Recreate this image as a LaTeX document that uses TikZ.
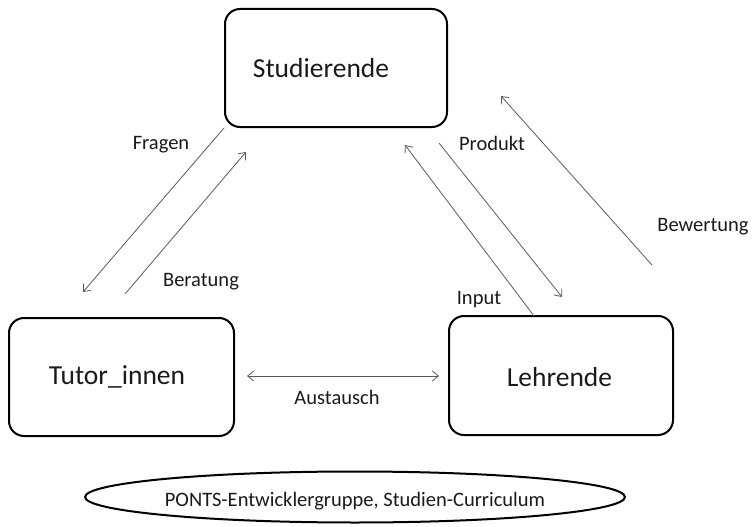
\documentclass[tikz,border=0pt]{standalone}
\usepackage{fontspec}
\setmainfont{Carlito}
\usetikzlibrary{arrows.meta,shapes.geometric}
\definecolor{txt}{HTML}{1A1A1A}
\definecolor{arrc}{HTML}{5A5A5A}
\tikzset{
  box/.style={draw=black, line width=2pt, rounded corners=15pt, inner sep=0pt},
  boxtext/.style={text=txt, font=\fontsize{27.5}{30}\selectfont, inner sep=0pt},
  lbl/.style={text=txt, font=\fontsize{20.5}{23}\selectfont, inner sep=0pt},
  arr/.style={draw=arrc, line width=0.8pt, -{Straight Barb[length=6pt,width=10pt,line width=0.8pt]}},
  dblarr/.style={draw=arrc, line width=0.8pt, {Straight Barb[length=6pt,width=10pt,line width=0.8pt]}-{Straight Barb[length=6pt,width=10pt,line width=0.8pt]}},
}
\begin{document}
\begin{tikzpicture}[x=1pt,y=-1pt]
\useasboundingbox (0,0) rectangle (753,527);
% boxes
\node[box, minimum width=222pt, minimum height=118pt] (stud) at (336,68) {};
\node[boxtext] (studt) at (321,68) {Studierende};
\node[box, minimum width=225pt, minimum height=118pt] (tut) at (121.5,377) {};
\node[boxtext] (tutt) at (117,377) {Tutor\_innen};
\node[box, minimum width=224pt, minimum height=119pt] (lehr) at (561,375.5) {};
\node[boxtext] (lehrt) at (559.5,377) {Lehrende};
% ellipse
\node[draw=black, line width=2pt, ellipse, minimum width=540pt, minimum height=51pt, inner sep=0pt] (ell) at (355,497) {};
\node[lbl] (ellt) at (355,501) {PONTS-Entwicklergruppe, Studien-Curriculum};
% free ends
\coordinate (fragenEnd) at (83,292);
\coordinate (berStart) at (125,294);
\coordinate (berEnd) at (246,152);
\coordinate (inStart) at (534,316);
\coordinate (inEnd) at (405,145);
\coordinate (prodStart) at (439,143);
\coordinate (prodEnd) at (562,297);
\coordinate (bewStart) at (652,265);
\coordinate (bewEnd) at (501,96);
\coordinate (ausL) at (247,376);
\coordinate (ausR) at (439,376);
% connectors
\draw[arr] (stud.south west) -- (fragenEnd);
\draw[arr] (berStart) -- (berEnd);
\draw[arr] (inStart) -- (inEnd);
\draw[arr] (prodStart) -- (prodEnd);
\draw[arr] (bewStart) -- (bewEnd);
\draw[dblarr] (ausL) -- (ausR);
% labels
\node[lbl] (lfragen) at (161,145) {Fragen};
\node[lbl] (lber) at (201,282) {Beratung};
\node[lbl] (lprod) at (492,143) {Produkt};
\node[lbl] (lbew) at (703,227) {Bewertung};
\node[lbl] (linput) at (479,300) {Input};
\node[lbl] (laus) at (337,397) {Austausch};
\end{tikzpicture}
\end{document}
